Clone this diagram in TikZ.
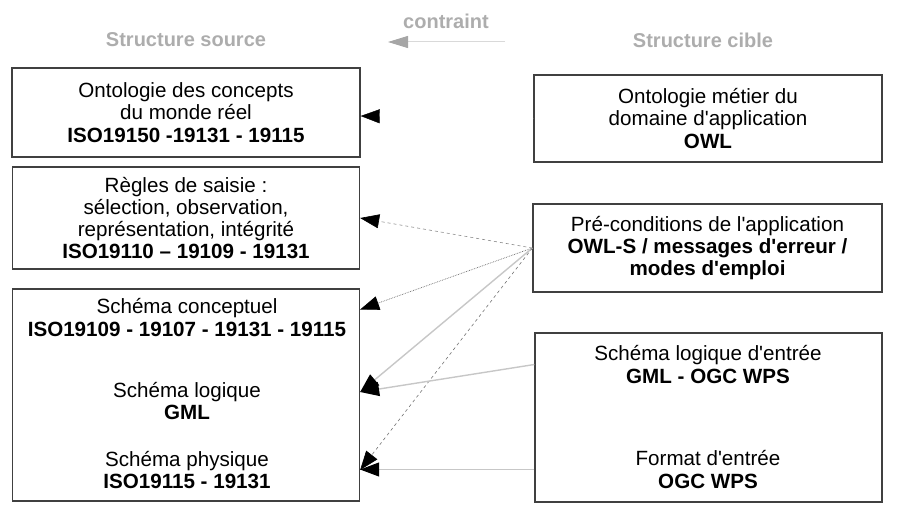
\documentclass[tikz,border=0pt]{standalone}
\usepackage{fontspec}
\newfontfamily\helv{Liberation Sans}
\usetikzlibrary{arrows.meta,calc}

\begin{document}
\begin{tikzpicture}[x=1pt, y=-1pt,
  boite/.style={draw=black!75, line width=1.3pt, inner sep=0pt},
  texte/.style={align=center, font=\helv\fontsize{20.6}{22.2}\selectfont},
  titre/.style={text=black!32, font=\helv\bfseries\fontsize{20}{22}\selectfont},
  lien/.style={draw=black!22, line width=1.4pt, -{Triangle[length=19pt,width=14pt,black]}},
  lientr/.style={draw=black!55, line width=0.6pt, dashed, -{Triangle[length=19pt,width=14pt,black]}},
  lienpt/.style={draw=black!60, line width=0.7pt, densely dotted, -{Triangle[length=19pt,width=14pt,black]}}]
  \useasboundingbox (0,0) rectangle (912,511);

  % Titres
  \node[titre] (source) at (186,40) {Structure source};
  \node[titre] (cible) at (703,40) {Structure cible};
  \node[titre] (contraint) at (446,21) {contraint};
  \coordinate (cd) at (505,42);
  \coordinate (cg) at (388,42);
  \draw[draw=black!15, line width=1pt, -{Triangle[length=20pt,width=12pt,black!35]}] (cd) -- (cg);

  % Structure source
  \node[boite, texte, minimum width=348pt, minimum height=89pt] (ontoreel) at (186,112.5)
    {Ontologie des concepts\\du monde réel\\\textbf{ISO19150 -19131 - 19115}};
  \node[boite, texte, minimum width=347pt, minimum height=102pt] (regles) at (186,218)
    {Règles de saisie :\\sélection, observation,\\représentation, intégrité\\\textbf{ISO19110 – 19109 - 19131}};
  \node[boite, minimum width=347pt, minimum height=212pt] (schemas) at (186,395) {};
  \node[texte] (concept) at (187,317.5) {Schéma conceptuel\\\textbf{ISO19109 - 19107 - 19131 - 19115}};
  \node[texte] (logique) at (187,401) {Schéma logique\\\textbf{GML}};
  \node[texte] (physique) at (187,470) {Schéma physique\\\textbf{ISO19115 - 19131}};

  % Structure cible
  \node[boite, texte, minimum width=348pt, minimum height=87pt] (ontometier) at (708,118.5)
    {Ontologie métier du\\domaine d'application\\\textbf{OWL}};
  \node[boite, texte, minimum width=349pt, minimum height=88pt] (precond) at (707.5,248)
    {Pré-conditions de l'application\\\textbf{OWL-S / messages d'erreur /}\\\textbf{modes d'emploi}};
  \node[boite, minimum width=347pt, minimum height=169pt] (entree) at (708.5,417.5) {};
  \node[texte] (logent) at (708,364.5) {Schéma logique d'entrée\\\textbf{GML - OGC WPS}};
  \node[texte] (format) at (708,469.5) {Format d'entrée\\\textbf{OGC WPS}};

  % Contraintes
  \draw[draw=white, -{Triangle[length=19pt,width=14pt,black]}] (ontometier.west) -- ([yshift=-3.5pt]ontoreel.east);
  \draw[lientr, draw=black!45] (precond.west) -- (regles.east);
  \draw[lienpt] (precond.west) -- ($(schemas.east |- concept)+(0,-8)$);
  \draw[lien] (precond.west) -- ($(schemas.east |- logique)+(0,-9)$);
  \draw[lientr] (precond.west) -- (schemas.east |- physique);
  \draw[lien] (entree.west |- logent) -- ($(schemas.east |- logique)+(0,-9)$);
  \draw[lien, line width=1pt] (entree.west |- format) -- (schemas.east |- format);
\end{tikzpicture}
\end{document}
